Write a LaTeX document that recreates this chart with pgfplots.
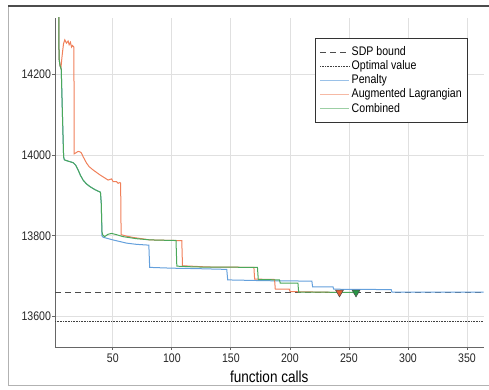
\documentclass[border=0pt]{standalone}
\usepackage{fontspec}
\setmainfont{Liberation Sans}[FakeStretch=0.85]
\usepackage{pgfplots}
\pgfplotsset{compat=1.18}
\definecolor{cpen}{RGB}{100,160,220}
\definecolor{caug}{RGB}{240,128,90}
\definecolor{ccom}{RGB}{75,168,90}
\definecolor{maug}{RGB}{225,95,50}
\definecolor{mcom}{RGB}{40,150,70}
\begin{document}
\begin{tikzpicture}
\path[use as bounding box] (0,0) rectangle (489bp,390bp);
\begin{axis}[
  at={(55bp,43bp)}, anchor=south west, scale only axis,
  width=428.5bp, height=329bp,
  xmin=1, xmax=364, ymin=13525, ymax=14339,
  axis x line*=bottom, axis y line*=left,
  axis line style={-, draw=black!60, line width=0.9bp},
  xtick={50,100,...,350}, ytick={13600,13800,14000,14200},
  scaled ticks=false,
  grid=major, major grid style={draw=black!12, line width=0.8bp},
  tick align=outside, major tick length=3bp,
  tick style={draw=black!60, line width=0.8bp},
  /pgf/number format/assume math mode=true,
  /pgf/number format/1000 sep={},
  tick label style={font=\fontsize{12.5}{12.5}\selectfont, text=black!85},
  yticklabel style={xshift=2.5bp},
  xlabel={function calls},
  xlabel style={font=\fontsize{16}{16}\selectfont, text=black, yshift=-2bp},
  legend style={at={(0.964,0.939)}, anchor=north east, draw=black!80,
    line width=0.6bp, fill=white, font=\fontsize{12.5}{13}\selectfont,
    inner xsep=4bp, inner ysep=7.5bp, row sep=1.7bp,
    nodes={inner ysep=0.5bp, text height=9bp, text depth=2.5bp}},
  legend cell align=left,
  legend image code/.code={\draw[#1] (0bp,0bp) -- (29bp,0bp);},
]
\addplot[black!70, line width=0.9bp, dash pattern=on 6bp off 4bp] coordinates {(1,13659) (364,13659)};
\addlegendentry{SDP bound}
\addplot[black!75, line width=0.7bp, dash pattern=on 0.8bp off 0.8bp] coordinates {(1,13588) (364,13588)};
\addlegendentry{Optimal value}
\addplot[cpen, line width=1bp, legend image post style={opacity=0.65}] coordinates {
(4.2,14600) (4.4,14240) (5.2,14222) (6.3,14212) (7.3,14100) (8.3,13995) (9,13988) (12,13985) (16.4,13981) (18.5,13975) (20.6,13963) (22.5,13950) (24.8,13938) (27.5,13929) (30.5,13922) (35,13914) (39.5,13908)
(40.2,13880) (40.8,13800) (41.8,13796.5) (50,13790) (61.6,13782) (70,13779) (80.5,13777) (81.2,13722) (100,13720) (120,13719) (146.5,13717) (147.3,13691) (180,13689) (218.6,13688) (219.2,13674) (236.5,13674) (237.1,13668) (285.8,13667) (286.4,13661) (364,13661)};
\addlegendentry{Penalty}
\addplot[caug, line width=1bp, legend image post style={opacity=0.55}] coordinates {
(4.2,14600) (4.4,14240) (5.2,14222) (6,14215) (7,14245) (8.2,14275) (9.3,14285) (10.7,14277) (12.1,14282) (13,14273) (14.1,14279) (15,14267) (15.8,14271) (17,14267) (17.3,14003) (19,14006) (20.6,14009) (22,14008) (23.4,14005) (24.8,13996) (27.7,13980) (30,13971) (33.3,13963) (39,13951) (46,13938) (48.9,13941) (50.3,13934) (53.1,13934) (54.5,13930) (56,13932) (56.6,13930)
(57,13803) (62,13799) (67.2,13796) (81.4,13790) (95,13789) (108.4,13788) (109,13726) (130,13723) (169.5,13722) (170.1,13693) (187,13692) (187.6,13668) (199.5,13668) (200.2,13662) (242,13660)};
\addlegendentry{Augmented Lagrangian}
\addplot[ccom, line width=1bp, legend image post style={opacity=0.55}] coordinates {
(4.2,14600) (4.4,14240) (5.2,14222) (6.3,14212) (7.3,14100) (8.3,13995) (9,13988) (12,13985) (16.4,13981) (18.5,13975) (20.6,13963) (22.5,13950) (24.8,13938) (27.5,13929) (30.5,13922) (35,13914) (39.5,13908)
(40.2,13880) (40.8,13810) (41.5,13802) (43,13798) (46,13804) (49,13806) (53,13803) (58.7,13798) (70,13793) (81.4,13790) (95,13789) (103.5,13789) (104.2,13725) (120,13723) (172.5,13722) (173.2,13692) (191.2,13691) (191.8,13683) (206.8,13683) (207.4,13661) (256,13660)};
\addlegendentry{Combined}
\addplot[forget plot, only marks, mark=triangle*, mark size=4.5bp,
  mark options={rotate=180, fill=maug, draw=black!70, line width=0.5bp}] coordinates {(242,13660)};
\addplot[forget plot, only marks, mark=triangle*, mark size=4.5bp,
  mark options={rotate=180, fill=mcom, draw=black!70, line width=0.5bp}] coordinates {(256,13660)};
\end{axis}
\draw[black!30, line width=0.8bp] (8bp,384bp) -- (8bp,5bp) -- (489bp,5bp);
\draw[black!70, line width=1.2bp] (8bp,384bp) -- (489bp,384bp);
\end{tikzpicture}
\end{document}
